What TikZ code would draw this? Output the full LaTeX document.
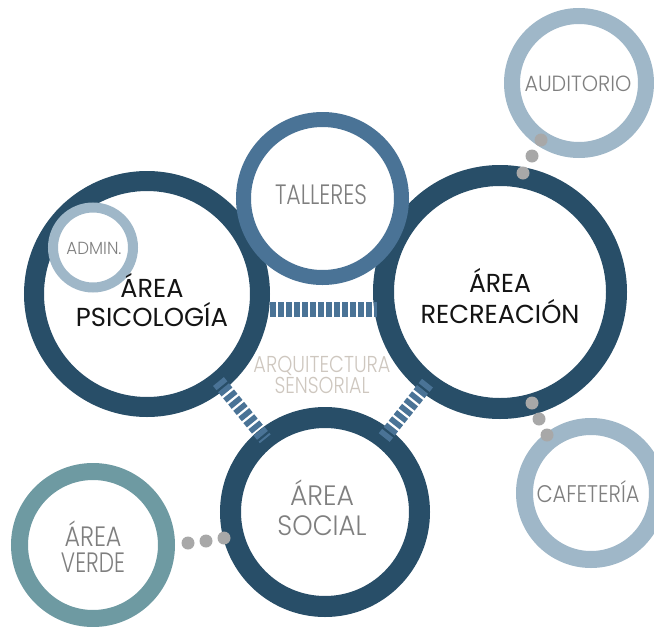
\documentclass[tikz,border=0pt]{standalone}
\usepackage{fontspec}
\usepackage{graphicx}
\setmainfont{Poppins}
\newfontfamily\thinfont{Poppins Light}
\newfontfamily\regfont{Poppins}
\definecolor{darkring}{HTML}{284E68}
\definecolor{tallring}{HTML}{4A7396}
\definecolor{lightring}{HTML}{9FB7C8}
\definecolor{verdering}{HTML}{6E9AA2}
\definecolor{dotgray}{HTML}{A8A8A8}
\definecolor{graytext}{HTML}{7F7F7F}
\definecolor{beigetext}{HTML}{CEC7BF}
\newcommand\fitw[2]{\resizebox{#1}{\height}{#2}}
\tikzset{
  ring/.style={circle, draw, fill=white, inner sep=0pt, outer sep=0pt, minimum size=#1},
  dashbar/.style={draw=tallring, dash pattern=on 5.5pt off 2.5pt},
  dotnode/.style={circle, fill=dotgray, inner sep=0pt, outer sep=0pt, minimum size=13pt},
  lbl/.style={anchor=base, inner sep=0pt, outer sep=0pt, font=\thinfont, text=graytext},
  mainlbl/.style={lbl, text=black!92},
}
\begin{document}
\begin{tikzpicture}[x=1pt,y=-1pt]
\useasboundingbox (0,0) rectangle (654,627);
% rings
\node[ring=226pt, draw=darkring, line width=20pt] (psi) at (147,294) {};
\node[ring=233pt, draw=darkring, line width=21pt] (rec) at (500,292) {};
\node[ring=189pt, draw=darkring, line width=21pt] (soc) at (325,512) {};
\node[ring=158pt, draw=tallring, line width=15pt] (tal) at (322.5,198.5) {};
\node[ring=80pt, draw=lightring, line width=10pt] (adm) at (93,247.5) {};
\node[ring=134pt, draw=lightring, line width=16pt] (aud) at (579,83) {};
\node[ring=133pt, draw=lightring, line width=17pt] (caf) at (591,493) {};
\node[ring=147pt, draw=verdering, line width=17pt] (ver) at (93,545) {};
% dashed links
\draw[dashbar, line width=15pt] ([xshift=10pt,yshift=-15pt]psi.east) -- ([xshift=-6.5pt,yshift=-17pt]rec.west);
\draw[dashbar, line width=14pt] (psi) -- (soc);
\draw[dashbar, line width=14pt] (rec) -- (soc);
% dots
\node[dotnode] (a1) at (541,140) {};
\node[dotnode] (a2) at (532,156) {};
\node[dotnode] (a3) at (523,173) {};
\node[dotnode] (c1) at (532,403) {};
\node[dotnode] (c2) at (539,419) {};
\node[dotnode] (c3) at (547,435) {};
\node[dotnode] (v1) at (188,543) {};
\node[dotnode] (v2) at (206,541) {};
\node[dotnode] (v3) at (224,538) {};
% labels
\node[mainlbl, font=\regfont\fontsize{26}{26}\selectfont] (psiA) at (152,297) {\fitw{63pt}{ÁREA}};
\node[mainlbl, font=\regfont\fontsize{26}{26}\selectfont] (psiB) at (152,326) {\fitw{152pt}{PSICOLOGÍA}};
\node[mainlbl, font=\regfont\fontsize{26}{26}\selectfont] (recA) at (500,292) {\fitw{62pt}{ÁREA}};
\node[mainlbl, font=\regfont\fontsize{26}{26}\selectfont] (recB) at (500,323) {\fitw{159pt}{RECREACIÓN}};
\node[lbl, font=\thinfont\fontsize{28}{28}\selectfont] (talT) at (321,204) {\fitw{92pt}{TALLERES}};
\node[lbl, font=\thinfont\fontsize{17.5}{17.5}\selectfont] (admT) at (94,254) {\fitw{55pt}{ADMIN.}};
\node[lbl, font=\thinfont\fontsize{22}{22}\selectfont] (audT) at (578,91) {\fitw{107pt}{AUDITORIO}};
\node[lbl, font=\thinfont\fontsize{24}{24}\selectfont] (cafT) at (588,502) {\fitw{103pt}{CAFETERÍA}};
\node[lbl, font=\thinfont\fontsize{28}{28}\selectfont] (socA) at (322,505) {\fitw{64pt}{ÁREA}};
\node[lbl, font=\thinfont\fontsize{28}{28}\selectfont] (socB) at (322,535) {\fitw{89pt}{SOCIAL}};
\node[lbl, font=\thinfont\fontsize{28}{28}\selectfont] (verA) at (93,546) {\fitw{57pt}{ÁREA}};
\node[lbl, font=\thinfont\fontsize{28}{28}\selectfont] (verB) at (93,572) {\fitw{64pt}{VERDE}};
\node[lbl, text=beigetext, font=\thinfont\fontsize{23}{23}\selectfont] (arqA) at (322,372) {\fitw{137pt}{ARQUITECTURA}};
\node[lbl, text=beigetext, font=\thinfont\fontsize{23}{23}\selectfont] (arqB) at (322,393) {\fitw{95pt}{SENSORIAL}};
\end{tikzpicture}
\end{document}
